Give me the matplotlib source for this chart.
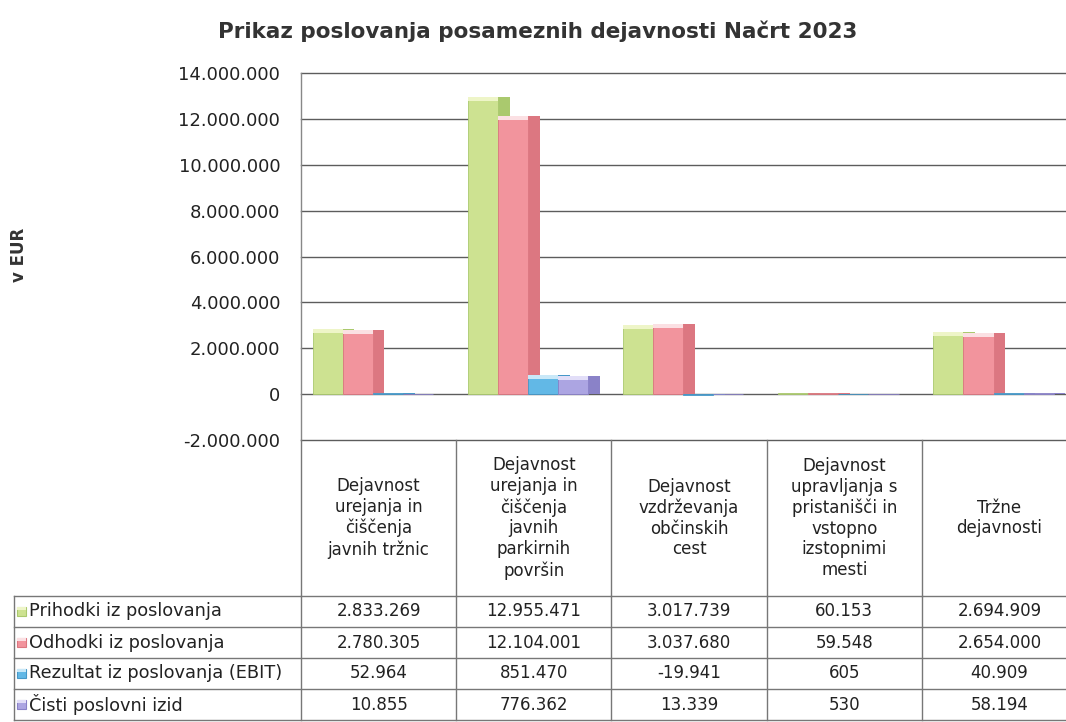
import matplotlib
matplotlib.use("Agg")
import matplotlib.pyplot as plt
from matplotlib.patches import Rectangle
import numpy as np

plt.rcParams['font.family'] = ['DejaVu Sans']

# ---------------- data ----------------
categories = [
    "Dejavnost\nurejanja in\nčiščenja\njavnih tržnic",
    "Dejavnost\nurejanja in\nčiščenja\njavnih\nparkirnih\npovršin",
    "Dejavnost\nvzdrževanja\nobčinskih\ncest",
    "Dejavnost\nupravljanja s\npristanišči in\nvstopno\nizstopnimi\nmesti",
    "Tržne\ndejavnosti",
]
series_names = [
    "Prihodki iz poslovanja",
    "Odhodki iz poslovanja",
    "Rezultat iz poslovanja (EBIT)",
    "Čisti poslovni izid",
]
prihodki = [2833269, 12955471, 3017739, 60153, 2694909]
odhodki = [2780305, 12104001, 3037680, 59548, 2654000]
ebit = [52964, 851470, -19941, 605, 40909]
cisti = [10855, 776362, 13339, 530, 58194]
series_values = [prihodki, odhodki, ebit, cisti]
yticks = [-2000000, 0, 2000000, 4000000, 6000000, 8000000, 10000000, 12000000, 14000000]

title = "Prikaz poslovanja posameznih dejavnosti Načrt 2023"
ylabel = "v EUR"

# ---------------- styles ----------------
front_cols = ["#cde291", "#f2949d", "#62b8e6", "#aca5e2"]
side_cols = ["#aac96e", "#dc7781", "#4798c8", "#8a82c8"]
top_cols = ["#eef5c8", "#fbe0e3", "#c9e8f8", "#e2def8"]
grid_col = "#5c5c5c"

W, H = 1066, 722
fig = plt.figure(figsize=(W / 100, H / 100), dpi=100)

x0_px = 301.0
col_w = 155.2
y_top_px, y_bot_px = 73.0, 440.0

ax = fig.add_axes([x0_px / W, (H - y_bot_px) / H, 5 * col_w / W, (y_bot_px - y_top_px) / H])
ax.set_xlim(-0.5, 4.5)
ax.set_ylim(yticks[0], yticks[-1])
for s in ax.spines.values():
    s.set_visible(False)
ax.set_xticks([])
ax.set_yticks(yticks)
ax.set_yticklabels([f"{v:,}".replace(",", ".") for v in yticks], fontsize=13, color="#222222")
ax.tick_params(axis='y', length=0, pad=15)
for v in yticks:
    ax.axhline(v, color=grid_col, lw=1.0, zorder=1, clip_on=False)
ax.axvline(-0.5, color="#888888", lw=1.0, zorder=1, clip_on=False)

bw = 0.194
depth = 0.075
start = -(4 * bw + depth) / 2
px_per_unit = (y_bot_px - y_top_px) / (yticks[-1] - yticks[0])
bevel = 4.0 / px_per_unit
xs = np.arange(len(categories))
for j, vals in enumerate(series_values):
    vals = np.array(vals, dtype=float)
    xl = xs + start + j * bw
    ax.bar(xl + bw, vals, width=depth, align='edge', color=side_cols[j],
           edgecolor="none", zorder=3 + 3 * j)
    ax.bar(xl, vals, width=bw, align='edge', color=front_cols[j],
           edgecolor=side_cols[j], linewidth=0.6, zorder=4 + 3 * j)
    bh = np.where(np.abs(vals) > 2 * bevel, bevel, 0.0)
    ax.bar(xl, bh, bottom=vals - bh, width=bw, align='edge', color=top_cols[j],
           edgecolor="none", zorder=5 + 3 * j)

# ---------------- overlay for titles and table ----------------
tab = fig.add_axes([0, 0, 1, 1])
tab.set_xlim(0, W)
tab.set_ylim(H, 0)
tab.axis('off')
tab.patch.set_alpha(0)

tab.text(538, 31, title, ha='center', va='center', fontsize=15.5, fontweight='bold', color="#333333")
tab.text(19, 255, ylabel, ha='center', va='center', rotation=90, fontsize=12,
         fontweight='bold', color="#333333")

line_col = "#777777"
hdr_bot = 596.0
row_h = 31.0
table_left = 14.0
col_edges = [x0_px + k * col_w for k in range(6)]

# header vertical lines
for xe in col_edges:
    tab.plot([xe, xe], [y_bot_px, hdr_bot], color=line_col, lw=1.0)
# header texts
for i, cat in enumerate(categories):
    cx = x0_px + (i + 0.5) * col_w
    tab.text(cx, 518, cat, ha='center', va='center', fontsize=12, linespacing=1.2,
             color="#222222", multialignment='center')

# data rows
n_rows = len(series_names)
row_edges = [hdr_bot + r * row_h for r in range(n_rows + 1)]
for ye in row_edges:
    tab.plot([table_left, W + 20], [ye, ye], color=line_col, lw=1.0, clip_on=False)
for xe in [table_left] + col_edges:
    tab.plot([xe, xe], [hdr_bot, row_edges[-1]], color=line_col, lw=1.0)

for r, (name, vals) in enumerate(zip(series_names, series_values)):
    cy = hdr_bot + (r + 0.5) * row_h
    tab.add_patch(Rectangle((17, cy - 4.5), 9, 9, facecolor=front_cols[r],
                            edgecolor=side_cols[r], lw=0.8))
    tab.add_patch(Rectangle((17, cy - 4.5), 9, 3, facecolor=top_cols[r],
                            edgecolor="none"))
    tab.text(29, cy, name, ha='left', va='center', fontsize=12.8, color="#222222")
    for i, v in enumerate(vals):
        cx = x0_px + (i + 0.5) * col_w
        tab.text(cx, cy, f"{v:,}".replace(",", "."), ha='center', va='center',
                 fontsize=12, color="#222222")

fig.savefig("out.png", dpi=100)
